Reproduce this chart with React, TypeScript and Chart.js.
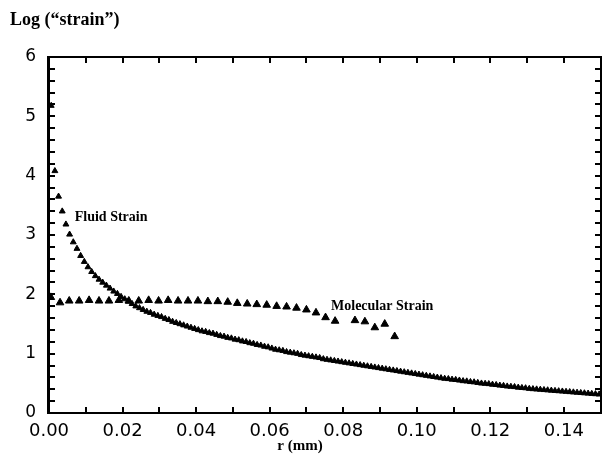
import React, { useEffect, useRef } from "react";
import { Chart, registerables } from "chart.js";

Chart.register(...registerables);

// Fluid strain: r (mm) and log("strain")
const fluidR = [
  0.0006, 0.0016, 0.0026, 0.0036, 0.0046, 0.0056, 0.0066, 0.0076, 0.0086, 0.0096,
  0.0106, 0.0116, 0.0126, 0.0136, 0.0146, 0.0156, 0.0166, 0.0176, 0.0186, 0.0196,
  0.0206, 0.0216, 0.0226, 0.0236, 0.0246, 0.0256, 0.0266, 0.0276, 0.0286, 0.0296,
  0.0306, 0.0316, 0.0326, 0.0336, 0.0346, 0.0356, 0.0366, 0.0376, 0.0386, 0.0396,
  0.0406, 0.0416, 0.0426, 0.0436, 0.0446, 0.0456, 0.0466, 0.0476, 0.0486, 0.0496,
  0.0506, 0.0516, 0.0526, 0.0536, 0.0546, 0.0556, 0.0566, 0.0576, 0.0586, 0.0596,
  0.0606, 0.0616, 0.0626, 0.0636, 0.0646, 0.0656, 0.0666, 0.0676, 0.0686, 0.0696,
  0.0706, 0.0716, 0.0726, 0.0736, 0.0746, 0.0756, 0.0766, 0.0776, 0.0786, 0.0796,
  0.0806, 0.0816, 0.0826, 0.0836, 0.0846, 0.0856, 0.0866, 0.0876, 0.0886, 0.0896,
  0.0906, 0.0916, 0.0926, 0.0936, 0.0946, 0.0956, 0.0966, 0.0976, 0.0986, 0.0996,
  0.1006, 0.1016, 0.1026, 0.1036, 0.1046, 0.1056, 0.1066, 0.1076, 0.1086, 0.1096,
  0.1106, 0.1116, 0.1126, 0.1136, 0.1146, 0.1156, 0.1166, 0.1176, 0.1186, 0.1196,
  0.1206, 0.1216, 0.1226, 0.1236, 0.1246, 0.1256, 0.1266, 0.1276, 0.1286, 0.1296,
  0.1306, 0.1316, 0.1326, 0.1336, 0.1346, 0.1356, 0.1366, 0.1376, 0.1386, 0.1396,
  0.1406, 0.1416, 0.1426, 0.1436, 0.1446, 0.1456, 0.1466, 0.1476, 0.1486, 0.1496,
];
const fluidStrain = [
  5.18, 4.08, 3.65, 3.4, 3.18, 3.01, 2.88, 2.77, 2.65, 2.55,
  2.46, 2.38, 2.31, 2.25, 2.2, 2.15, 2.1, 2.05, 2.01, 1.96,
  1.92, 1.88, 1.84, 1.8, 1.77, 1.74, 1.71, 1.69, 1.66, 1.64,
  1.62, 1.59, 1.57, 1.54, 1.52, 1.5, 1.48, 1.46, 1.44, 1.42,
  1.4, 1.38, 1.37, 1.35, 1.34, 1.32, 1.3, 1.29, 1.27, 1.26,
  1.24, 1.23, 1.21, 1.2, 1.18, 1.17, 1.15, 1.14, 1.12, 1.11,
  1.09, 1.07, 1.06, 1.05, 1.03, 1.02, 1.01, 1.0, 0.98, 0.97,
  0.96, 0.95, 0.94, 0.93, 0.91, 0.9, 0.89, 0.88, 0.87, 0.86,
  0.85, 0.84, 0.83, 0.82, 0.81, 0.8, 0.79, 0.78, 0.77, 0.76,
  0.75, 0.74, 0.73, 0.72, 0.71, 0.7, 0.69, 0.68, 0.67, 0.66,
  0.65, 0.64, 0.63, 0.62, 0.61, 0.6, 0.59, 0.58, 0.575, 0.565,
  0.56, 0.55, 0.54, 0.535, 0.525, 0.52, 0.51, 0.5, 0.495, 0.49,
  0.48, 0.475, 0.465, 0.46, 0.45, 0.445, 0.44, 0.43, 0.425, 0.42,
  0.41, 0.405, 0.4, 0.395, 0.39, 0.385, 0.38, 0.375, 0.37, 0.365,
  0.36, 0.355, 0.35, 0.345, 0.34, 0.335, 0.33, 0.325, 0.32, 0.315,
];

// Molecular strain
const molR = [
  0.0005, 0.003, 0.0055, 0.0082, 0.0109, 0.0136, 0.0163, 0.019, 0.0217, 0.0244,
  0.0271, 0.0298, 0.0324, 0.0351, 0.0378, 0.0405, 0.0432, 0.0459, 0.0486, 0.0512,
  0.0539, 0.0565, 0.0592, 0.0619, 0.0646, 0.0673, 0.07, 0.0726, 0.0752, 0.0778,
  0.0832, 0.0859, 0.0886, 0.0913, 0.094,
];
const molStrain = [
  1.95, 1.86, 1.89, 1.89, 1.9, 1.89, 1.89, 1.9, 1.89, 1.89,
  1.9, 1.89, 1.9, 1.89, 1.89, 1.89, 1.88, 1.88, 1.87, 1.85,
  1.84, 1.83, 1.82, 1.8, 1.79, 1.77, 1.74, 1.69, 1.61, 1.55,
  1.56, 1.54, 1.44, 1.5, 1.29,
];

// Axis minor tick positions (inward tick marks)
const xMinorTicks = [0, 0.01, 0.02, 0.03, 0.04, 0.05, 0.06, 0.07, 0.08, 0.09, 0.1, 0.11, 0.12, 0.13, 0.14, 0.15];
const yMinorTicks = [
  0, 0.2, 0.4, 0.6, 0.8, 1, 1.2, 1.4, 1.6, 1.8, 2, 2.2, 2.4, 2.6, 2.8, 3,
  3.2, 3.4, 3.6, 3.8, 4, 4.2, 4.4, 4.6, 4.8, 5, 5.2, 5.4, 5.6, 5.8, 6,
];

// In-plot annotations
const annotations = [
  { text: "Fluid Strain", x: 0.007, y: 3.29 },
  { text: "Molecular Strain", x: 0.0767, y: 1.8 },
];
const xAxisTitle = "r (mm)";

const SERIF = '"Liberation Serif", "Times New Roman", serif';
const SANS = '"DejaVu Sans", sans-serif';

const framePlugin = {
  id: "frameTicks",
  afterDraw(chart: any) {
    const ctx: CanvasRenderingContext2D = chart.ctx;
    const area = chart.chartArea;
    const L = Math.round(area.left);
    const R = Math.round(area.right);
    const T = Math.round(area.top);
    const B = Math.round(area.bottom);
    const xs = chart.scales.x;
    const ys = chart.scales.y;
    ctx.save();
    ctx.setTransform(1, 0, 0, 1, 0, 0);
    ctx.globalAlpha = 1;
    ctx.globalCompositeOperation = "source-over";
    ctx.fillStyle = "rgb(0,0,0)";
    // frame as filled bands
    ctx.fillRect(L - 1, T - 1, R - L + 2, 2);
    ctx.fillRect(L - 1, B - 1, R - L + 2, 2);
    ctx.fillRect(L - 2, T - 1, 3, B - T + 2);
    ctx.fillRect(R - 1, T - 1, 2, B - T + 2);
    // inward ticks
    for (const v of xMinorTicks) {
      const px = Math.round(xs.getPixelForValue(v));
      ctx.fillRect(px - 1, B - 6, 2, 6);
      ctx.fillRect(px - 1, T, 2, 6);
    }
    for (const v of yMinorTicks) {
      const py = Math.round(ys.getPixelForValue(v));
      ctx.fillRect(L, py - 1, 6, 2);
      ctx.fillRect(R - 6, py - 1, 6, 2);
    }
    ctx.font = `bold 14px ${SERIF}`;
    ctx.textBaseline = "middle";
    ctx.textAlign = "left";
    for (const a of annotations) {
      ctx.fillText(a.text, xs.getPixelForValue(a.x), ys.getPixelForValue(a.y));
    }
    ctx.font = `bold 15px ${SERIF}`;
    ctx.textAlign = "center";
    ctx.fillText(xAxisTitle, chart.width / 2 - 3, chart.height - 18);
    ctx.restore();
  },
};

export default function App() {
  const ref = useRef<HTMLCanvasElement>(null);
  useEffect(() => {
    if (!ref.current) return;
    const chart = new Chart(ref.current, {
      type: "scatter",
      data: {
        datasets: [
          {
            label: "Molecular Strain",
            data: molR.map((r, i) => ({ x: r, y: molStrain[i] })),
            pointStyle: "triangle",
            pointRadius: 4.4,
            pointBackgroundColor: "#000000",
            pointBorderColor: "#000000",
            pointBorderWidth: 1,
          },
          {
            label: "Fluid Strain",
            data: fluidR.map((r, i) => ({ x: r, y: fluidStrain[i] })),
            pointStyle: "triangle",
            pointRadius: 3.4,
            pointBackgroundColor: "#000000",
            pointBorderColor: "#000000",
            pointBorderWidth: 1,
          },
        ],
      },
      options: {
        responsive: false,
        animation: false,
        layout: { padding: { left: 10, right: 2, top: 10, bottom: 0 } },
        plugins: {
          legend: { display: false },
          tooltip: { enabled: false },
          title: {
            display: true,
            text: "Log (\u201Cstrain\u201D)",
            align: "start",
            color: "#000",
            font: { family: SERIF, weight: "bold", size: 18 },
            padding: { top: 0, bottom: 25.4 },
          },
        },
        scales: {
          x: {
            type: "linear",
            min: 0,
            max: 0.15,
            grid: { display: false, drawTicks: false },
            border: { display: false },
            ticks: {
              stepSize: 0.02,
              includeBounds: false,
              color: "#000",
              padding: 8,
              font: { family: SANS, size: 18 },
              callback: (v: any) => Number(v).toFixed(2),
            },
            afterBuildTicks: (s: any) => {
              s.ticks = s.ticks.filter((t: any) => t.value < 0.145);
            },
            afterFit: (s: any) => {
              s.height = 51;
            },
          },
          y: {
            type: "linear",
            min: 0,
            max: 6,
            grid: { display: false, drawTicks: false },
            border: { display: false },
            ticks: {
              stepSize: 1,
              color: "#000",
              padding: 13,
              font: { family: SANS, size: 17 },
            },
            afterFit: (s: any) => {
              s.width = 39;
            },
          },
        },
      },
      plugins: [framePlugin],
    });
    return () => chart.destroy();
  }, []);
  return (
    <div style={{ position: "fixed", left: 0, top: 0, width: 606, height: 464, background: "#fff" }}>
      <canvas ref={ref} width={606} height={464} />
    </div>
  );
}
